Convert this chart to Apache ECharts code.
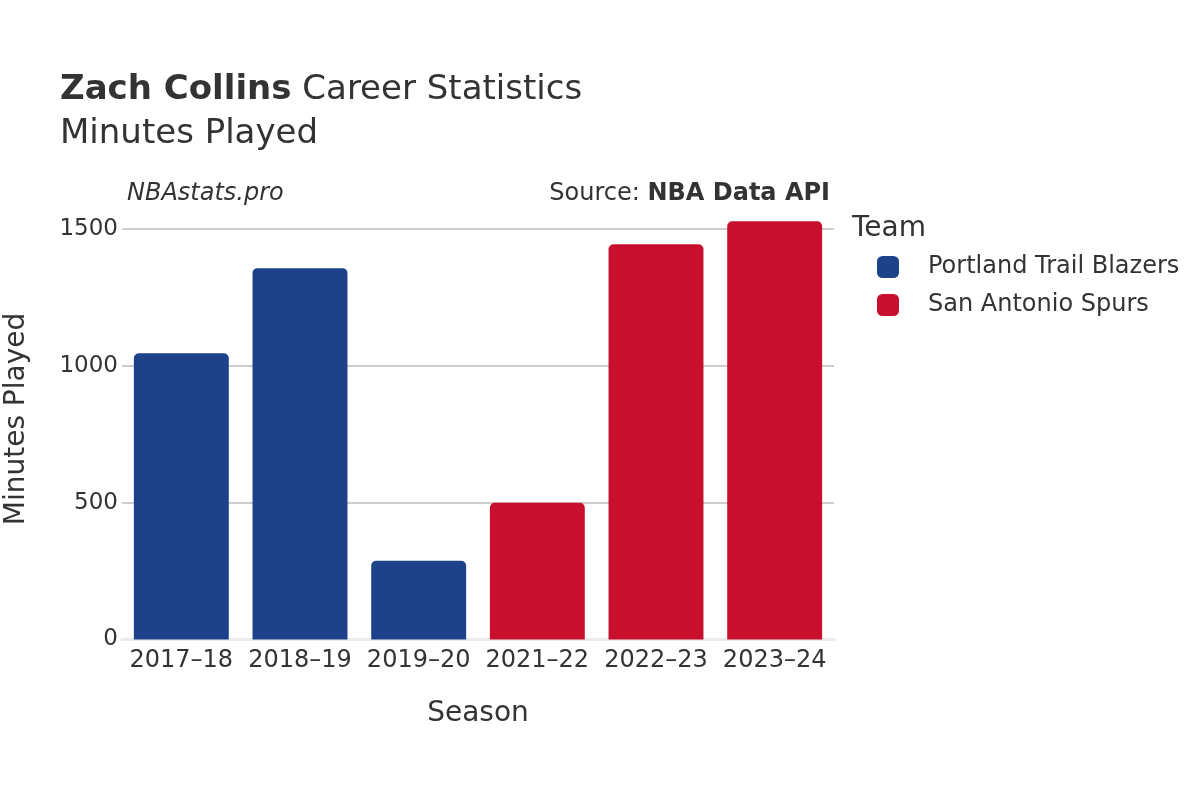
<!DOCTYPE html>
<html><head><meta charset="utf-8">
<script src="https://cdn.jsdelivr.net/npm/echarts@6/dist/echarts.min.js"></script>
<style>html,body{margin:0;padding:0;background:#fff}#c{width:1200px;height:800px}</style>
</head><body><div id="c"></div>
<script>
const seasons = ['2017–18','2018–19','2019–20','2021–22','2022–23','2023–24'];
const portland = [1046, 1357, 288, null, null, null];
const spurs = [null, null, null, 500, 1444, 1528];
const yTicks = [0, 500, 1000, 1500];
const teams = ['Portland Trail Blazers', 'San Antonio Spurs'];
const colors = ['#1d428a', '#c8102e'];

const F = 'DejaVu Sans';
const chart = echarts.init(document.getElementById('c'), null, {renderer:'canvas'});
chart.setOption({
  backgroundColor:'#fff',
  animation:false,
  textStyle:{fontFamily:F},
  title:[
    {text:'{b|Zach Collins}{n| Career Statistics}', left:55, top:68,
     textStyle:{fontWeight:'normal',fontSize:34,rich:{b:{fontFamily:F,fontWeight:'bold',fontSize:34,color:'#333'},n:{fontFamily:F,fontWeight:'normal',fontSize:34,color:'#333'}}}},
    {text:'Minutes Played', left:55, top:112, textStyle:{fontFamily:F,fontWeight:'normal',fontSize:34,color:'#333'}},
    {text:'NBAstats.pro', left:122, top:177, textStyle:{fontFamily:F,fontStyle:'italic',fontWeight:'normal',fontSize:24,color:'#333'}},
    {text:'{n|Source: }{b|NBA Data API}', right:365, top:177,
     textStyle:{fontWeight:'normal',fontSize:24,rich:{n:{fontFamily:F,fontSize:24,fontWeight:'normal',color:'#333'},b:{fontFamily:F,fontSize:24,fontWeight:'bold',color:'#333'}}}},
    {text:'Team', left:847, top:210, textStyle:{fontFamily:F,fontWeight:'normal',fontSize:28,color:'#333'}}
  ],
  graphic:[
    {type:'text', x:17, y:419, rotation:Math.PI/2,
     style:{text:'Minutes Played', fontFamily:F, fontSize:28, fill:'#333', align:'center', verticalAlign:'middle'}}
  ],
  legend:{
    orient:'vertical', left:877, top:255, padding:0, itemWidth:22, itemHeight:22, itemGap:14,
    icon:'roundRect',
    data:teams,
    textStyle:{fontFamily:F,fontSize:24,color:'#333',padding:[0,0,0,24]}
  },
  grid:{left:122, right:366, top:229, bottom:160.5, containLabel:false, outerBoundsMode:'none'},
  xAxis:{
    type:'category', data:seasons,
    name:'Season', nameLocation:'middle', nameGap:60,
    nameTextStyle:{fontFamily:F,fontSize:28,color:'#333'},
    axisLine:{show:true,lineStyle:{color:'#ebebeb',width:3}},
    axisTick:{show:false},
    axisLabel:{fontFamily:F,fontSize:24,color:'#333',margin:9,interval:0}
  },
  yAxis:{
    type:'value', min:yTicks[0], max:yTicks[yTicks.length-1], interval:500,
    axisLine:{show:false}, axisTick:{show:false},
    axisLabel:{fontFamily:F,fontSize:23,color:'#333',margin:4,padding:[4,0,0,0],formatter:v=>String(v)},
    splitLine:{lineStyle:{color:'#bdbdbd',width:1.5}}
  },
  series:[
    {name:teams[0], type:'bar', stack:'t', data:portland, barCategoryGap:'20%', clip:false,
     itemStyle:{color:colors[0], borderRadius:[5,5,0,0]}},
    {name:teams[1], type:'bar', stack:'t', data:spurs, barCategoryGap:'20%', clip:false,
     itemStyle:{color:colors[1], borderRadius:[5,5,0,0]}}
  ]
});
</script></body></html>
